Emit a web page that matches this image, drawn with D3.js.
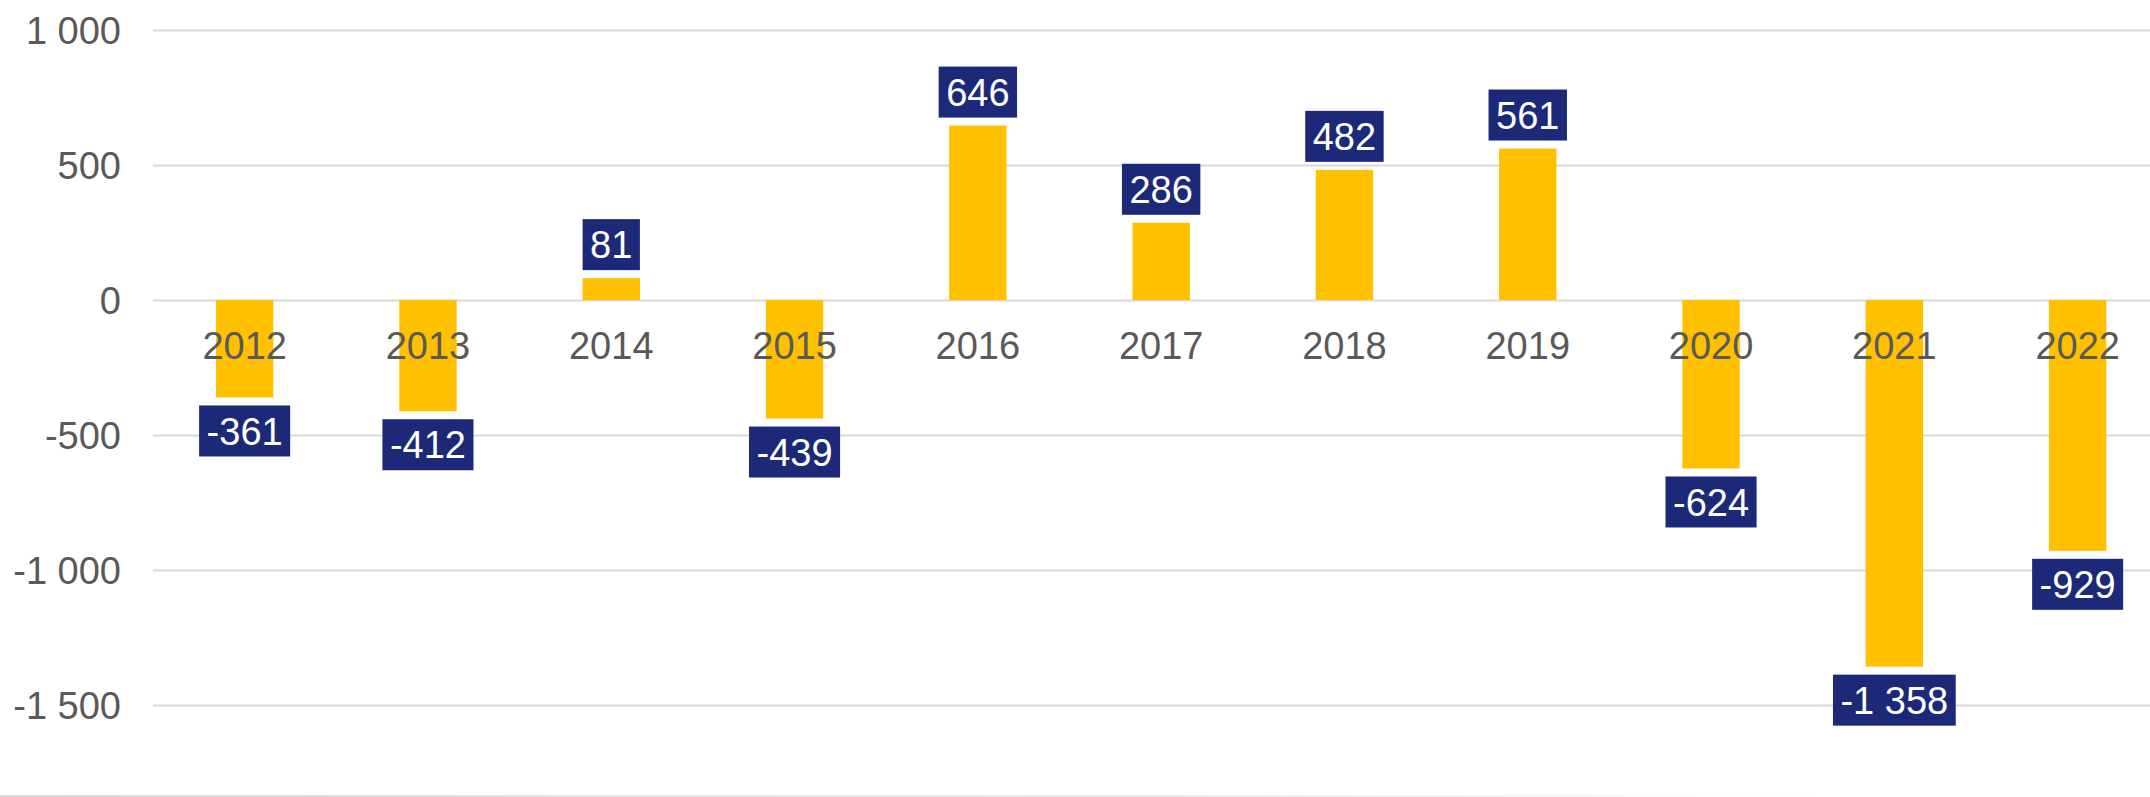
<!DOCTYPE html>
<html>
<head>
<meta charset="utf-8">
<script src="https://cdn.jsdelivr.net/npm/d3@7"></script>
<style>
  html, body { margin: 0; padding: 0; background: #fff; }
  svg { display: block; }
  text { font-family: "Liberation Sans", Arial, sans-serif; }
</style>
</head>
<body>
<div id="chart"></div>
<script>
var years = ["2012", "2013", "2014", "2015", "2016", "2017", "2018", "2019", "2020", "2021", "2022"];
var values = [-361, -412, 81, -439, 646, 286, 482, 561, -624, -1358, -929];
var yTicks = [-1500, -1000, -500, 0, 500, 1000];

var width = 2150;
var height = 797;
var left = 153;
var step = 183.3;

var barColor = "#FFC000";
var boxColor = "#1C2878";
var gridColor = "#D9D9D9";
var textColor = "#595959";

// space between thousands and a plain hyphen for negatives, like the source
var locale = d3.formatLocale({
  decimal: ",",
  thousands: " ",
  grouping: [3],
  currency: ["", ""],
  minus: "-"
});
var fmt = locale.format(",d");

var svg = d3.select("#chart").append("svg")
  .attr("width", width)
  .attr("height", height);

var x = d3.scaleBand()
  .domain(years)
  .range([left, left + step * years.length])
  .paddingInner(0.687)
  .paddingOuter(0.3435);

var y = d3.scaleLinear()
  .domain([-2000, 1000])
  .range([840, 30]);

// faded line at the very bottom
var grad = svg.append("defs").append("linearGradient")
  .attr("id", "fade")
  .attr("x1", "0%").attr("x2", "100%");
grad.append("stop").attr("offset", "0%").attr("stop-color", "#D9D9D9");
grad.append("stop").attr("offset", "70%").attr("stop-color", "#EEEEEE");
grad.append("stop").attr("offset", "100%").attr("stop-color", "#FFFFFF");
svg.append("rect")
  .attr("x", 0).attr("y", 795)
  .attr("width", 1820).attr("height", 2)
  .attr("fill", "url(#fade)");

// gridlines + y labels
var yAxis = d3.axisLeft(y)
  .tickValues(yTicks)
  .tickSize(-(width - left))
  .tickPadding(32)
  .tickFormat(fmt);

var gy = svg.append("g")
  .attr("transform", "translate(" + left + ",0)")
  .call(yAxis);
gy.select(".domain").remove();
gy.selectAll(".tick line")
  .attr("stroke", gridColor)
  .attr("stroke-width", 2);
gy.selectAll(".tick text")
  .attr("fill", textColor)
  .attr("font-size", 38)
  .attr("dy", "0.36em");

// bars
svg.selectAll("rect.bar")
  .data(values)
  .enter()
  .append("rect")
  .attr("class", "bar")
  .attr("x", function(d, i) { return x(years[i]); })
  .attr("width", x.bandwidth())
  .attr("y", function(d) { return y(Math.max(0, d)); })
  .attr("height", function(d) { return Math.abs(y(d) - y(0)); })
  .attr("fill", barColor);

// category labels under zero line
var gx = svg.append("g")
  .attr("transform", "translate(0," + y(0) + ")")
  .call(d3.axisBottom(x).tickSize(0).tickPadding(0));
gx.select(".domain").remove();
gx.selectAll(".tick text")
  .attr("fill", textColor)
  .attr("font-size", 38)
  .attr("dy", null)
  .attr("y", 59);

// data labels in navy boxes
var fontSize = 38;
var boxH = 51;
var gap = 8;
var labels = svg.selectAll("g.lbl")
  .data(values)
  .enter()
  .append("g")
  .attr("class", "lbl");

labels.each(function(d, i) {
  var g = d3.select(this);
  var cx = x(years[i]) + x.bandwidth() / 2;
  var top = d >= 0 ? y(d) - gap - boxH : y(d) + gap;
  var t = g.append("text")
    .attr("x", cx)
    .attr("y", top + boxH / 2 + 13.6)
    .attr("text-anchor", "middle")
    .attr("font-size", fontSize)
    .attr("fill", "#fff")
    .text(fmt(d));
  var w = t.node().getComputedTextLength() + 15;
  g.insert("rect", "text")
    .attr("x", cx - w / 2)
    .attr("y", top)
    .attr("width", w)
    .attr("height", boxH)
    .attr("fill", boxColor);
});
</script>
</body>
</html>
